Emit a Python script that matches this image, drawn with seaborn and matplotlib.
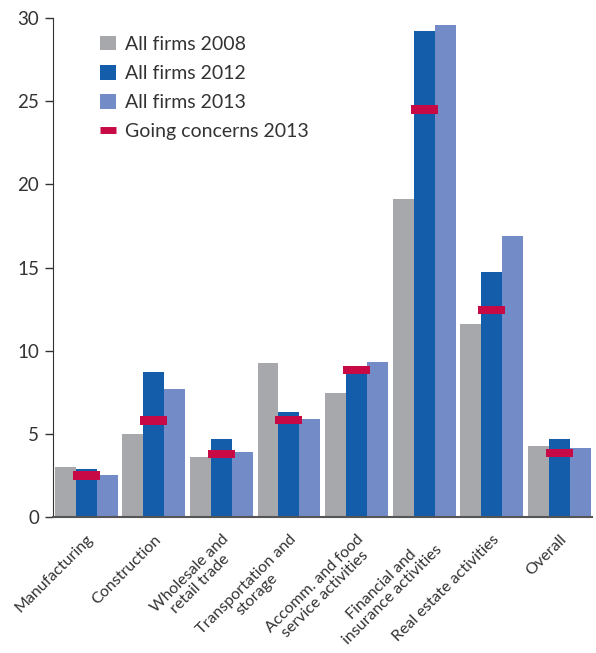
import numpy as np
import pandas as pd
import matplotlib.pyplot as plt
import seaborn as sns
from matplotlib.patches import Patch
from matplotlib.lines import Line2D

sns.set_style("white")
plt.rcParams['font.family'] = ['Lato', 'DejaVu Sans']

categories = ['Manufacturing', 'Construction', 'Wholesale and\nretail trade',
              'Transportation and\nstorage', 'Accomm. and food\nservice activities',
              'Financial and\ninsurance activities', 'Real estate activities', 'Overall']
firms_2008 = [3.0, 5.0, 3.6, 9.25, 7.45, 19.1, 11.6, 4.25]
firms_2012 = [2.9, 8.7, 4.7, 6.3, 8.9, 29.2, 14.7, 4.7]
firms_2013 = [2.5, 7.7, 3.9, 5.9, 9.3, 29.6, 16.9, 4.15]
going_2013 = [2.5, 5.8, 3.8, 5.85, 8.85, 24.5, 12.45, 3.85]

series = ['All firms 2008', 'All firms 2012', 'All firms 2013']
colors = ['#a7a8ab', '#135dab', '#738bc7']
red = '#c70a46'
txt = '#333333'

df = pd.DataFrame({
    'category': categories * 3,
    'series': np.repeat(series, len(categories)),
    'value': firms_2008 + firms_2012 + firms_2013,
})

fig = plt.figure(figsize=(5.96, 6.53), dpi=100)
ax = fig.add_axes([0.089, 0.2083, 0.905, 0.7641])

sns.barplot(data=df, x='category', y='value', hue='series', palette=colors,
            width=0.93, gap=0, saturation=1, legend=False, linewidth=0, ax=ax)

# going concerns markers
x = np.arange(len(categories))
ax.bar(x, 0.5, bottom=np.array(going_2013) - 0.25, width=0.4, color=red,
       linewidth=0, zorder=3)

ax.set_xlim(-0.49, 7.49)
ax.set_ylim(0, 30)
ax.set_yticks(range(0, 31, 5))
ax.set_xlabel('')
ax.set_ylabel('')
ax.tick_params(axis='y', length=6, width=1, color=txt, labelsize=13.5,
               labelcolor=txt, left=True, pad=4)
ax.tick_params(axis='x', length=0, labelsize=11.5, labelcolor=txt, pad=11)
ax.set_xticks(x)
ax.set_xticklabels(categories, rotation=45, ha='right', rotation_mode='anchor',
                   multialignment='center', linespacing=1.05)

for s in ['top', 'right']:
    ax.spines[s].set_visible(False)
ax.spines['left'].set_color(txt)
ax.spines['bottom'].set_color('#555555')
ax.spines['bottom'].set_linewidth(1.5)

handles = [Patch(color=c, label=l, linewidth=0) for c, l in zip(colors, series)]
handles.append(Line2D([0], [0], color=red, lw=5, solid_capstyle='butt',
                      label='Going concerns 2013'))
ax.legend(handles=handles, loc='upper left', bbox_to_anchor=(0.055, 1.0),
          frameon=False, fontsize=14, handlelength=0.8, handleheight=0.8,
          labelspacing=0.62, handletextpad=0.45, labelcolor=txt)

fig.savefig('out.png', dpi=100)
